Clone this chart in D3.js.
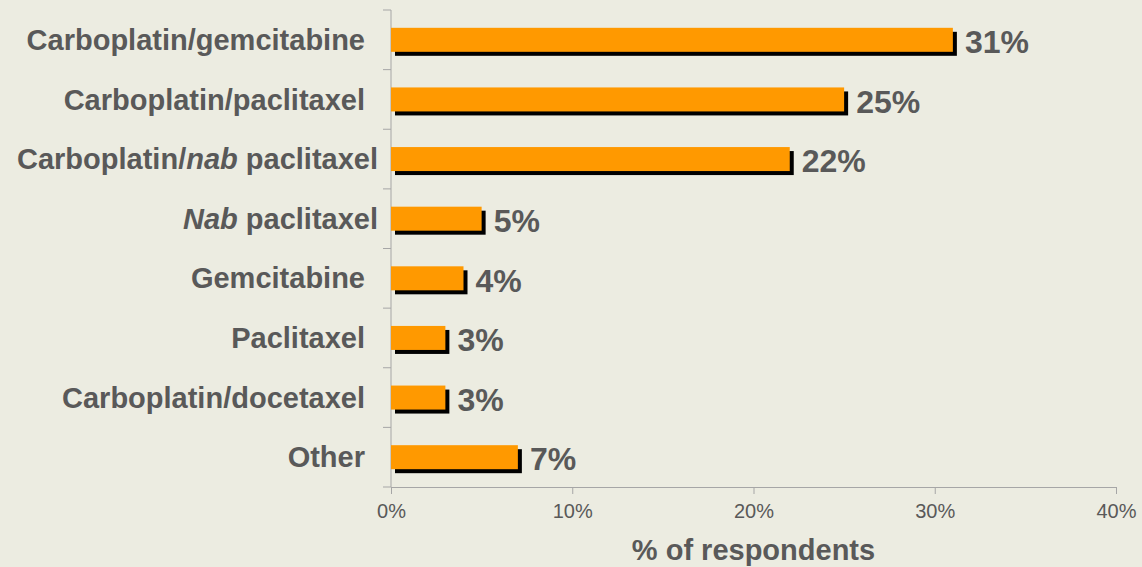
<!DOCTYPE html>
<html>
<head>
<style>
  html, body { margin: 0; padding: 0; background: #ecece1; }
  svg { display: block; font-family: "Liberation Sans", Arial, sans-serif; }
</style>
<script src="https://cdn.jsdelivr.net/npm/d3@7"></script>
</head>
<body>
<svg id="chart"></svg>
<script>
const categories = [
  "Carboplatin/gemcitabine",
  "Carboplatin/paclitaxel",
  "Carboplatin/nab paclitaxel",
  "Nab paclitaxel",
  "Gemcitabine",
  "Paclitaxel",
  "Carboplatin/docetaxel",
  "Other"
];
const values = [31, 25, 22, 5, 4, 3, 3, 7];
const xTicks = [0, 10, 20, 30, 40];

const w = 1142, h = 567;
const margin = {left: 391, right: 26, top: 10, bottom: 80};
const textColor = "#595959";

const svg = d3.select("#chart").attr("width", w).attr("height", h);

const x = d3.scaleLinear().domain([0, 40]).range([margin.left, w - margin.right]);
const yb = d3.scaleBand().domain(categories).range([margin.top, h - margin.bottom]);

// x axis
const xAxis = svg.append("g")
  .attr("transform", "translate(0," + (h - margin.bottom) + ")")
  .call(d3.axisBottom(x).tickValues(xTicks).tickFormat(d => d + "%").tickSize(7).tickSizeOuter(7));
xAxis.select(".domain").attr("stroke", "#a6a6a6");
xAxis.selectAll(".tick line").attr("stroke", "#a6a6a6");
xAxis.selectAll("text").attr("fill", textColor).attr("font-size", 20).attr("dy", "1.05em")
  .attr("font-family", "Liberation Sans, Arial, sans-serif");

// y axis line with ticks at band boundaries
const yAxisG = svg.append("g");
yAxisG.append("line")
  .attr("x1", margin.left).attr("x2", margin.left)
  .attr("y1", margin.top).attr("y2", h - margin.bottom)
  .attr("stroke", "#a6a6a6");
const bounds = categories.map(c => yb(c)).concat([h - margin.bottom]);
yAxisG.selectAll(".ytick").data(bounds).enter().append("line")
  .attr("x1", margin.left - 8).attr("x2", margin.left)
  .attr("y1", d => d).attr("y2", d => d)
  .attr("stroke", "#a6a6a6");

// category labels (the italic "nab" ones sit a little further right, as in the original)
const labels = svg.append("g").selectAll("text").data(categories).enter().append("text")
  .attr("x", d => /nab/i.test(d) ? margin.left - 13 : margin.left - 26)
  .attr("y", d => yb(d) + yb.bandwidth() / 2)
  .attr("dy", "0.35em")
  .attr("text-anchor", "end")
  .attr("fill", textColor)
  .attr("font-size", 29)
  .attr("font-weight", "bold");
labels.each(function(d) {
  const t = d3.select(this);
  if (d === "Carboplatin/nab paclitaxel") {
    t.append("tspan").text("Carboplatin/");
    t.append("tspan").attr("font-style", "italic").text("nab");
    t.append("tspan").text(" paclitaxel");
  } else if (d === "Nab paclitaxel") {
    t.append("tspan").attr("font-style", "italic").text("Nab");
    t.append("tspan").text(" paclitaxel");
  } else {
    t.text(d);
  }
});

// bars with shadow
const barH = 24;
const bars = svg.append("g").selectAll("g").data(categories).enter().append("g");
bars.append("rect")
  .attr("x", x(0) + 4)
  .attr("y", (d, i) => yb(d) + yb.bandwidth() / 2 - barH / 2 + 4)
  .attr("width", (d, i) => x(values[i]) - x(0))
  .attr("height", barH)
  .attr("fill", "#000");
bars.append("rect")
  .attr("x", x(0))
  .attr("y", (d, i) => yb(d) + yb.bandwidth() / 2 - barH / 2)
  .attr("width", (d, i) => x(values[i]) - x(0))
  .attr("height", barH)
  .attr("fill", "#ff9900");
bars.append("text")
  .attr("x", (d, i) => x(values[i]) + 12)
  .attr("y", d => yb(d) + yb.bandwidth() / 2 + 2)
  .attr("dy", "0.35em")
  .attr("fill", textColor)
  .attr("font-size", 32)
  .attr("font-weight", "bold")
  .text((d, i) => values[i] + "%");

// x axis title
svg.append("text")
  .attr("x", (x(0) + x(40)) / 2)
  .attr("y", 560)
  .attr("text-anchor", "middle")
  .attr("fill", textColor)
  .attr("font-size", 29)
  .attr("font-weight", "bold")
  .text("% of respondents");
</script>
</body>
</html>
